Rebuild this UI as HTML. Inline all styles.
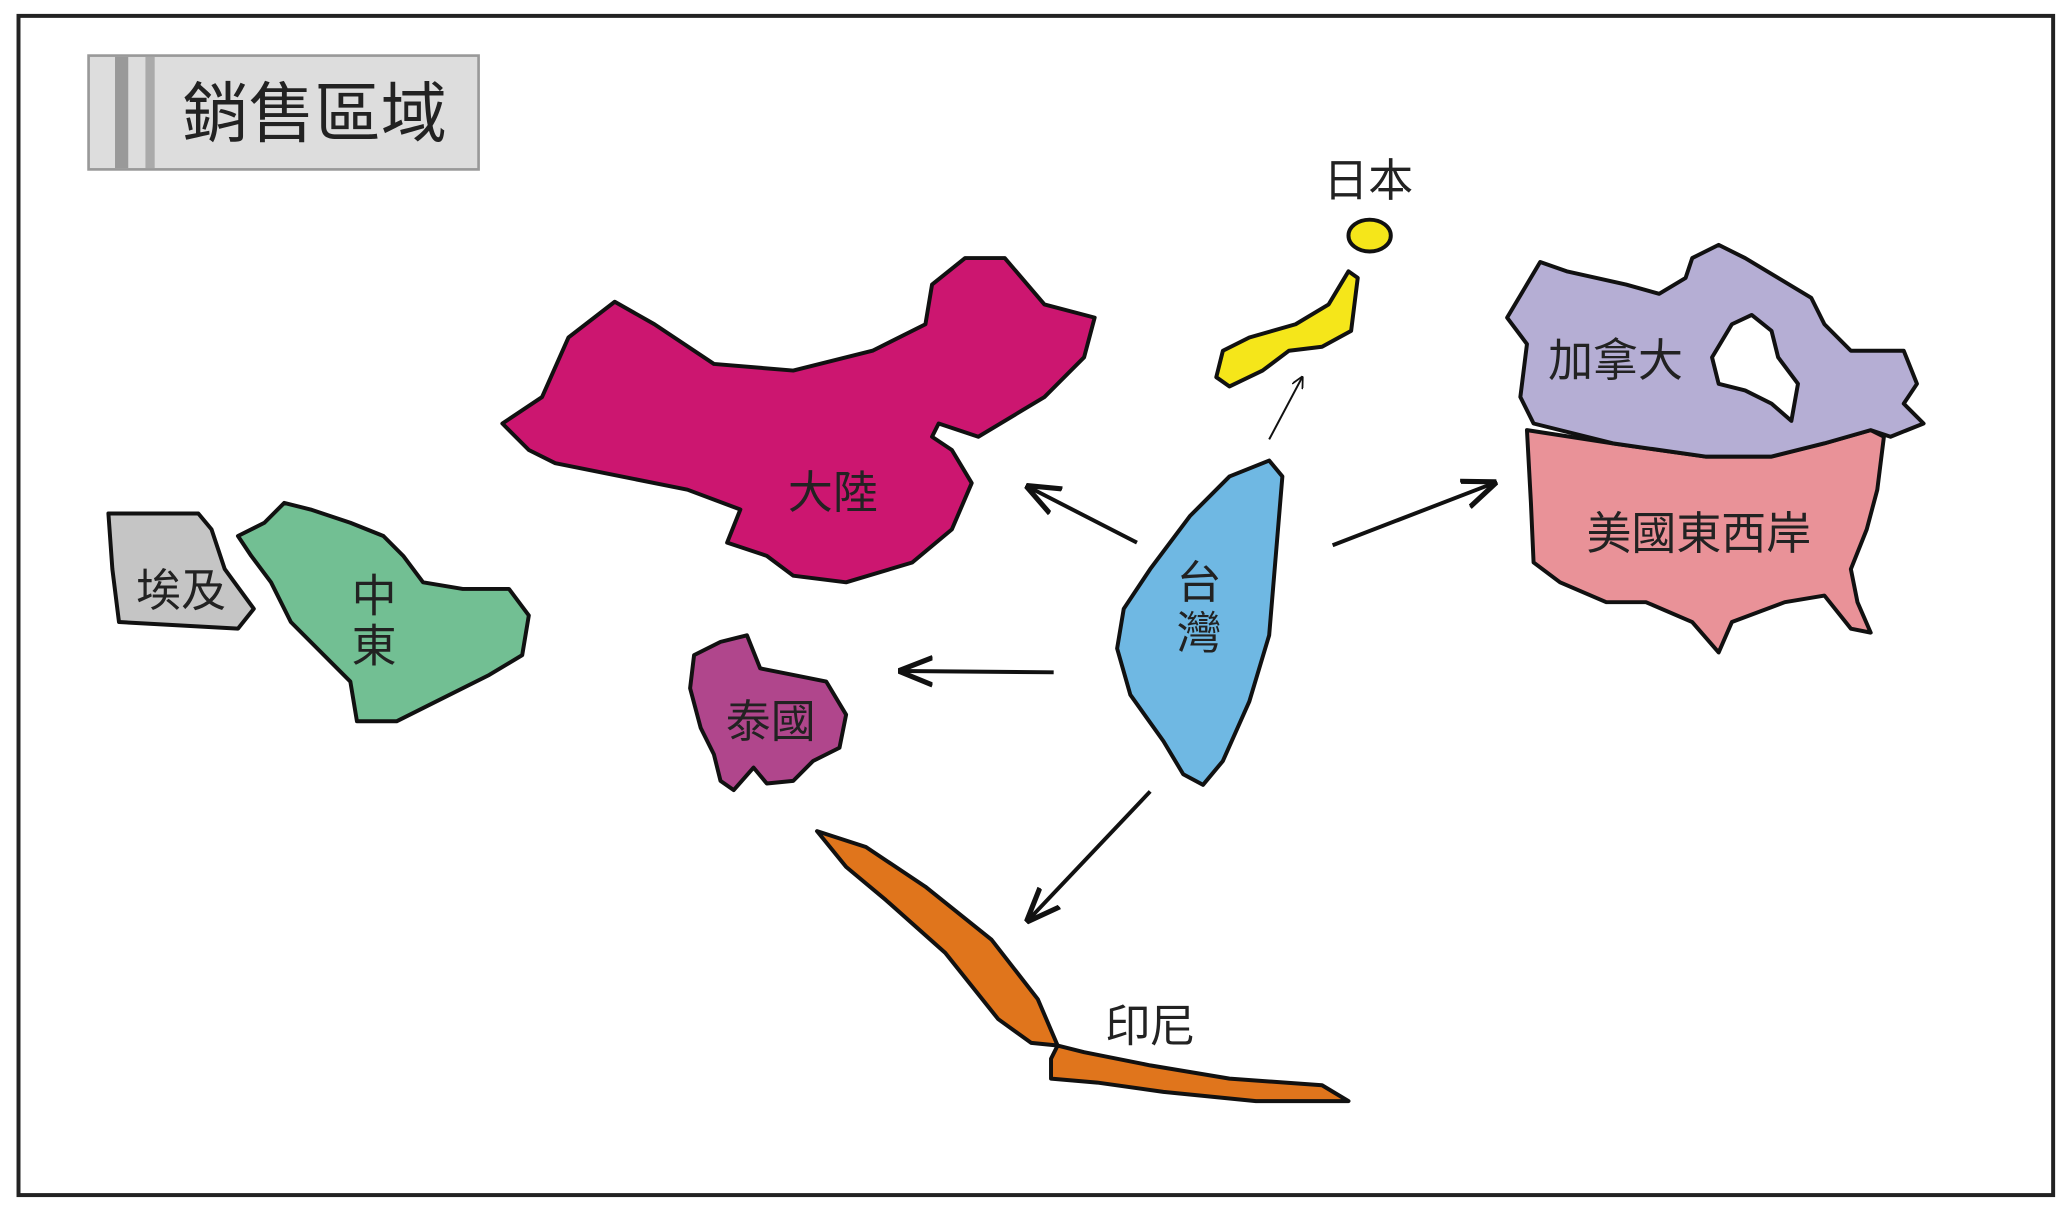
<!DOCTYPE html>
<html><head><meta charset="utf-8"><style>
html,body{margin:0;padding:0;background:#fff;}
svg{display:block;}
text{font-family:"Liberation Sans","Noto Sans CJK TC",sans-serif;fill:#222;}
</style></head><body>
<svg width="2069" height="1207" viewBox="0 0 1565 912" preserveAspectRatio="none" xmlns="http://www.w3.org/2000/svg">
<defs>
<marker id="ah" viewBox="0 0 10 10" refX="9" refY="5" markerWidth="9" markerHeight="9" orient="auto" markerUnits="userSpaceOnUse">
<path d="M0,0 L10,5 L0,10" fill="none" stroke="#111" stroke-width="1.5"/></marker>
<marker id="ah2" viewBox="0 0 10 10" refX="9" refY="5" markerWidth="26" markerHeight="26" orient="auto" markerUnits="userSpaceOnUse">
<path d="M0,1 L10,5 L0,9" fill="none" stroke="#111" stroke-width="1.5"/></marker>
</defs>
<rect x="14" y="12" width="1539" height="891" fill="#fff" stroke="#222" stroke-width="3"/>
<rect x="67" y="42" width="295" height="86" fill="#ddd" stroke="#999" stroke-width="2"/>
<rect x="87" y="43" width="10" height="84" fill="#999"/>
<rect x="110" y="43" width="7" height="84" fill="#aaa"/>
<text x="238" y="103" font-size="50" text-anchor="middle">銷售區域</text>
<g stroke="#111" stroke-width="3" stroke-linejoin="round">
<polygon fill="#cc1670" points="380,320 410,300 430,255 465,228 495,245 540,275 600,280 660,265 700,245 705,215 730,195 760,195 790,230 828,240 820,270 790,300 740,330 710,320 705,330 720,340 735,365 720,400 690,425 640,440 600,435 580,420 550,410 560,385 520,370 470,360 420,350 400,340"/>
<polygon fill="#c5c5c5" points="82,388 150,388 160,400 170,430 192,460 180,475 90,470 85,430"/>
<polygon fill="#72bf93" points="180,405 200,395 215,380 235,385 265,395 290,405 305,420 320,440 350,445 385,445 400,465 395,495 370,510 330,530 300,545 270,545 265,515 240,490 220,470 205,440 190,420"/>
<polygon fill="#b0468c" points="525,495 545,485 565,480 575,505 600,510 625,515 640,540 635,565 615,575 600,590 580,592 570,580 555,597 545,590 540,570 530,550 522,520"/>
<polygon fill="#6fb8e3" points="930,360 960,348 970,360 965,420 960,480 945,530 925,575 910,593 895,585 880,560 855,525 845,490 850,460 870,430 900,390"/>
<ellipse cx="1036" cy="178" rx="16" ry="12" fill="#f5e61a"/>
<polygon fill="#f5e61a" points="1020,205 1027,210 1022,250 1000,262 975,265 955,280 930,292 920,285 925,265 945,255 980,245 1005,230"/>
<polygon fill="#e99298" points="1155,325 1220,335 1290,345 1340,345 1380,335 1415,325 1425,330 1420,370 1412,400 1400,430 1405,455 1415,478 1400,475 1380,450 1350,455 1310,470 1300,493 1280,470 1245,455 1215,455 1180,440 1160,425 1158,380"/>
<polygon fill="#b5aed4" points="1140,240 1165,198 1185,205 1230,215 1255,222 1275,210 1280,195 1300,185 1320,195 1345,210 1370,225 1380,245 1400,265 1440,265 1450,290 1440,305 1455,320 1430,330 1415,325 1380,335 1340,345 1290,345 1220,335 1160,320 1150,300 1155,260"/>
<polygon fill="#fff" points="1295,270 1310,245 1325,238 1340,250 1345,270 1360,290 1355,318 1340,305 1320,295 1300,290"/>
<polygon fill="#e0751c" points="618,628 655,640 700,670 750,710 785,755 800,790 780,788 755,770 715,720 670,680 640,655"/>
<polygon fill="#e0751c" points="800,790 820,795 870,805 930,815 1000,820 1020,832 950,832 880,825 830,818 795,815 795,800"/>
</g>
<g stroke="#111" fill="none">
<line x1="960" y1="332" x2="985" y2="285" stroke-width="1.5" marker-end="url(#ah)"/>
<line x1="860" y1="410" x2="778" y2="368" stroke-width="3" marker-end="url(#ah2)"/>
<line x1="1008" y1="412" x2="1130" y2="365" stroke-width="3" marker-end="url(#ah2)"/>
<line x1="797" y1="508" x2="682" y2="507" stroke-width="3" marker-end="url(#ah2)"/>
<line x1="870" y1="598" x2="778" y2="695" stroke-width="3" marker-end="url(#ah2)"/>
</g>
<text x="630" y="384" font-size="34" text-anchor="middle">大陸</text>
<text x="1035" y="148" font-size="34" text-anchor="middle">日本</text>
<text x="1222" y="284" font-size="34" text-anchor="middle">加拿大</text>
<text x="1285" y="415" font-size="34" text-anchor="middle">美國東西岸</text>
<text x="907" y="452" font-size="34" text-anchor="middle">台</text>
<text x="907" y="490" font-size="34" text-anchor="middle">灣</text>
<text x="137" y="458" font-size="34" text-anchor="middle">埃及</text>
<text x="283" y="462" font-size="34" text-anchor="middle">中</text>
<text x="283" y="500" font-size="34" text-anchor="middle">東</text>
<text x="583" y="557" font-size="34" text-anchor="middle">泰國</text>
<text x="870" y="787" font-size="34" text-anchor="middle">印尼</text>
</svg>
</body></html>
